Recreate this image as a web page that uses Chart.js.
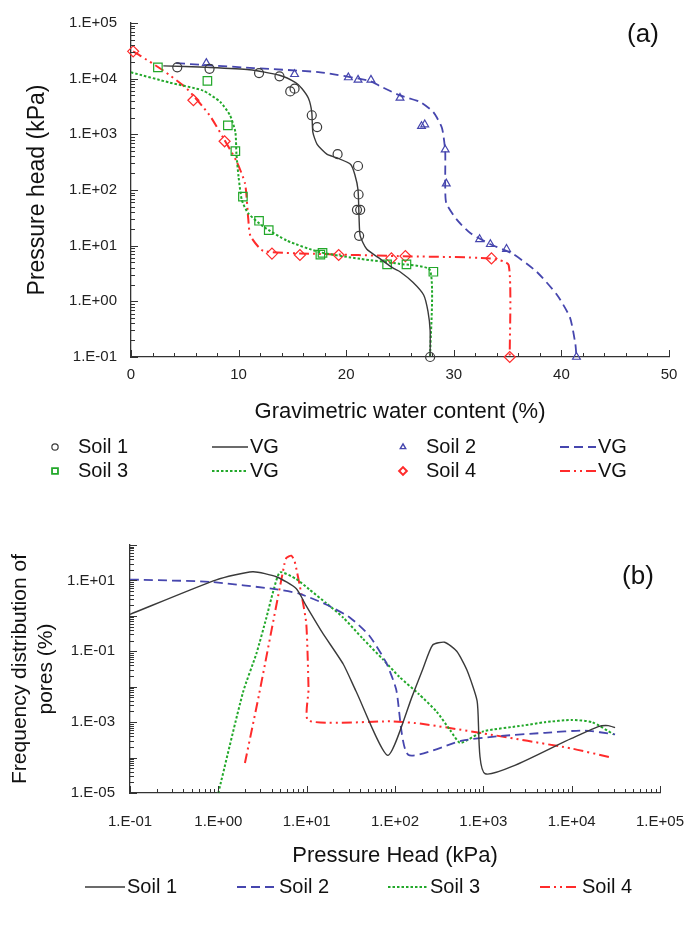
<!DOCTYPE html>
<html>
<head>
<meta charset="utf-8">
<script src="https://cdn.jsdelivr.net/npm/chart.js@4.4.0/dist/chart.umd.min.js"></script>
<style>
  html, body { margin: 0; padding: 0; background: #fff; }
  #wrap { position: relative; width: 689px; height: 927px; }
  #wrap canvas { position: absolute; left: 0; }
</style>
</head>
<body>
<div id="wrap">
  <canvas id="soil_retention_plot" width="689" height="500" style="top:0px"></canvas>
  <canvas id="pore_frequency_plot" width="689" height="427" style="top:500px"></canvas>
</div>
<script>
// ---- (a) water retention: [water content %, pressure head kPa]
const soil_1_obs = [[4.3,1.6e4],[7.3,1.5e4],[11.9,1.26e4],[13.8,1.1e4],[14.8,5.9e3],[15.2,6.6e3],[16.8,2.2e3],[17.3,1.35e3],[19.2,440],[21.1,270],[21.15,83],[21.0,44],[21.3,44],[21.2,15],[27.8,0.1]];
const soil_2_obs = [[7.0,1.9e4],[15.2,1.2e4],[20.2,1.05e4],[21.1,9.5e3],[22.3,9.5e3],[25.0,4.5e3],[27.0,1.4e3],[27.3,1.5e3],[29.2,530],[29.3,130],[32.4,13],[33.4,10.6],[34.9,8.7],[41.4,0.1]];
const soil_3_obs = [[2.5,1.6e4],[7.1,9.1e3],[9.0,1.45e3],[9.7,500],[10.4,76],[11.9,28],[12.8,19],[17.6,6.9],[17.8,7.4],[23.8,4.6],[25.6,4.6],[28.1,3.4]];
const soil_4_obs = [[0.2,3.1e4],[5.8,4.1e3],[8.7,750],[13.1,7.2],[15.7,6.8],[19.3,6.8],[24.2,5.9],[25.5,6.5],[33.5,5.9],[35.2,0.1]];

const soil_1_vg = [[3.0,1.7e4],[7,1.6e4],[11,1.45e4],[13.8,1.15e4],[15.3,8.5e3],[15.9,6.6e3],[16.5,4.4e3],[16.8,2.5e3],[16.9,1.1e3],[17.3,660],[18.2,440],[19.1,380],[20.4,290],[20.8,190],[21.1,100],[21.2,30],[21.3,15],[21.9,8.7],[23.1,5.9],[24.4,3.9],[25.0,3.4],[26.2,2.2],[27.2,1.3],[27.6,0.66],[27.8,0.3],[27.8,0.1]];
const soil_2_vg = [[4.2,1.9e4],[11.4,1.55e4],[17.6,1.3e4],[22.2,9.1e3],[23.1,7.4e3],[25.0,5e3],[26.9,3.8e3],[28.1,2.5e3],[28.9,1.3e3],[29.2,500],[29.2,130],[29.3,58],[30.3,29],[31.5,17],[33.4,10.6],[35.5,7.1],[37.7,3.4],[39.6,1.3],[40.8,0.51],[41.3,0.17],[41.4,0.1]];
const soil_3_vg = [[0,1.3e4],[3.6,8.5e3],[6.7,6.1e3],[8.3,3.8e3],[9.2,2.2e3],[9.7,1.1e3],[9.8,440],[10.0,170],[10.3,66],[10.9,38],[12.3,22],[14.5,12.3],[17.6,7.6],[21.3,5.8],[25.0,4.7],[27.8,3.6],[27.8,0.1]];
const soil_4_vg = [[0.2,3.1e4],[0.84,2.6e4],[3.0,1.4e4],[5.2,6.6e3],[7.3,2.2e3],[8.6,850],[9.8,330],[10.6,130],[10.9,30],[11.1,15],[12.3,8.1],[17.6,7.1],[24.7,6.5],[33.4,5.9],[35.1,4.5],[35.2,0.1]];

// ---- (b) pore frequency: [pressure head kPa, frequency %]
const soil_1_freq = [[0.1,1.1],[0.95,10.4],[2.45,17.6],[4.6,12.5],[7.6,5.9],[9.9,1.9],[15,0.34],[26,0.043],[36,7.7e-3],[83,1.15e-4],[158,5.7e-3],[205,0.03],[267,0.15],[365,0.18],[500,0.1],[650,0.03],[850,4e-3],[1050,3.5e-5],[1e4,3.5e-4],[2e4,7.5e-4],[2.6e4,8e-4],[3.1e4,7e-4]];
const soil_2_freq = [[0.1,10.6],[0.8,9.1],[4.6,5.6],[8.3,4.2],[16.6,2.1],[31,0.89],[51,0.28],[79,0.049],[103,8.5e-3],[141,1.2e-4],[575,3e-4],[1450,4e-4],[5000,5e-4],[1.4e4,5.8e-4],[3.1e4,4.5e-4]];
const soil_3_freq = [[1.0,1e-5],[1.9,6.9e-3],[2.7,0.087],[3.5,0.89],[4.2,5.1],[5.0,17],[7.6,11],[10.7,5.6],[16.6,2.3],[26,0.89],[43,0.23],[73,0.059],[112,0.019],[186,6.2e-3],[295,2e-3],[420,6e-4],[550,2.6e-4],[1000,5.5e-4],[2800,8e-4],[5000,1e-3],[1e4,1.15e-3],[1.7e4,1e-3],[3e4,4.5e-4]];
const soil_4_freq = [[2.0,7e-5],[2.9,6.3e-3],[5.6,29],[5.9,43],[6.7,50],[7.3,35],[8.7,4.2],[9.9,0.6],[10.5,8.5e-3],[10.5,1.1e-3],[94,1.05e-3],[200,9e-4],[1000,4.8e-4],[1e4,1.8e-4],[2.8e4,1e-4]];

const soil_names = ['Soil 1', 'Soil 2', 'Soil 3', 'Soil 4'];
const fit_name = 'VG';

const black = '#3a3a3a', blue = '#4646ae', green = '#22a82a', red = '#ff2b2b';
const TXT = '"Liberation Sans", Arial, sans-serif';

function pts(list) { return list.map(p => ({x: p[0], y: p[1]})); }

function expLabel(v) {
  const e = Math.round(Math.log10(v));
  return '1.E' + (e < 0 ? '-' : '+') + String(Math.abs(e)).padStart(2, '0');
}
function isDecade(v) {
  const l = Math.log10(v);
  return Math.abs(l - Math.round(l)) < 1e-6;
}
function logTicks(lo, hi) {
  const out = [];
  for (let e = lo; e < hi; e++) {
    for (let m = 1; m < 10; m++) out.push({value: m * Math.pow(10, e)});
  }
  out.push({value: Math.pow(10, hi)});
  return out;
}

// tick marks drawn inward from the axis lines
const insideTicks = {
  id: 'insideTicks',
  afterDatasetsDraw(chart) {
    const ctx = chart.ctx, area = chart.chartArea;
    ctx.save();
    ctx.strokeStyle = '#333';
    ctx.lineWidth = 1;
    Object.values(chart.scales).forEach(scale => {
      const log = scale.type === 'logarithmic';
      scale.ticks.forEach(t => {
        const major = log ? isDecade(t.value) : (t.value % 10 === 0);
        const len = major ? 7 : 4;
        const p = Math.round(scale.getPixelForValue(t.value)) + 0.5;
        ctx.beginPath();
        if (scale.isHorizontal()) {
          ctx.moveTo(p, area.bottom); ctx.lineTo(p, area.bottom - len);
        } else {
          ctx.moveTo(area.left, p); ctx.lineTo(area.left + len, p);
        }
        ctx.stroke();
      });
    });
    ctx.restore();
  }
};

const panelTag = {
  id: 'panelTag',
  afterDraw(chart, args, opts) {
    const ctx = chart.ctx;
    ctx.save();
    ctx.font = opts.font;
    ctx.fillStyle = '#111';
    ctx.textAlign = 'center';
    ctx.textBaseline = 'middle';
    ctx.fillText(opts.text, opts.x, opts.y);
    ctx.restore();
  }
};

// legend laid out on a fixed grid, samples taken from the datasets
const gridLegend = {
  id: 'gridLegend',
  afterDraw(chart, args, opts) {
    const ctx = chart.ctx;
    ctx.save();
    ctx.font = opts.font;
    ctx.textBaseline = 'middle';
    opts.items.forEach(it => {
      const ds = chart.data.datasets[it.dataset];
      let tx;
      if (ds.showLine) {
        ctx.strokeStyle = ds.borderColor;
        ctx.lineWidth = ds.borderWidth;
        ctx.setLineDash(ds.borderDash || []);
        ctx.beginPath();
        ctx.moveTo(it.x, it.y);
        ctx.lineTo(it.x + opts.lineLength, it.y);
        ctx.stroke();
        ctx.setLineDash([]);
        tx = it.x + opts.lineLength + 2;
      } else {
        ctx.strokeStyle = ds.borderColor;
        ctx.fillStyle = 'rgba(0,0,0,0)';
        Chart.helpers.drawPoint(ctx, {pointStyle: ds.pointStyle, radius: ds.pointRadius * 0.7, borderWidth: 1, rotation: 0}, it.x, it.y);
        tx = it.x + 23;
      }
      ctx.fillStyle = '#111';
      ctx.fillText(ds.label, tx, it.y);
    });
    ctx.restore();
  }
};

function pointSet(label, list, color, style, r) {
  return {label: label, data: pts(list), showLine: false, pointStyle: style, pointRadius: r,
          borderColor: color, backgroundColor: 'rgba(0,0,0,0)', borderWidth: 1.2, clip: false};
}
function lineSet(label, list, color, width, dash) {
  return {label: label, data: pts(list), showLine: true, pointRadius: 0, borderColor: color,
          borderWidth: width, borderDash: dash, tension: 0.2, clip: false};
}

const tickFont = {family: TXT, size: 15};
const titleFont = {family: TXT, size: 22};

// ---------------- (a)
const retention_chart = new Chart(
  document.querySelector('#soil_retention_plot'),
  {
    type: 'scatter',
    data: {
      datasets: [
        pointSet(soil_names[0], soil_1_obs, black, 'circle', 4.5),
        lineSet(fit_name, soil_1_vg, black, 1.4, []),
        pointSet(soil_names[1], soil_2_obs, blue, 'triangle', 4.5),
        lineSet(fit_name, soil_2_vg, blue, 1.8, [9, 5]),
        pointSet(soil_names[2], soil_3_obs, green, 'rect', 6),
        lineSet(fit_name, soil_3_vg, green, 2, [2.5, 2]),
        pointSet(soil_names[3], soil_4_obs, red, 'rectRot', 5.5),
        lineSet(fit_name, soil_4_vg, red, 2, [10, 4, 2, 4, 2, 4])
      ]
    },
    options: {
      responsive: false,
      animation: false,
      layout: {padding: {top: 16, right: 20, left: 0, bottom: 0}},
      scales: {
        x: {
          type: 'linear',
          position: 'bottom',
          min: 0,
          max: 50,
          afterFit: s => { s.height = 143; s.paddingLeft = 0; s.paddingRight = 0; },
          grid: {display: false, drawTicks: false},
          border: {display: true, color: '#333', width: 1.3},
          ticks: {stepSize: 2, autoSkip: false, maxRotation: 0, padding: 9, color: '#222', font: tickFont,
                  callback: v => (v % 10 === 0 ? String(v) : '')},
          title: {display: true, text: 'Gravimetric water content (%)', color: '#111', font: titleFont,
                  padding: {top: 0, bottom: 75}}
        },
        y: {
          type: 'logarithmic',
          min: 0.1,
          max: 1e5,
          afterFit: s => { s.width = 131; },
          afterBuildTicks: s => { s.ticks = logTicks(-1, 5); },
          grid: {display: false, drawTicks: false},
          border: {display: true, color: '#333', width: 1.3},
          ticks: {autoSkip: false, padding: 14, color: '#222', font: tickFont,
                  callback: v => (isDecade(v) ? expLabel(v) : '')},
          title: {display: true, text: 'Pressure head (kPa)', color: '#111', font: {family: TXT, size: 23},
                  padding: {top: 24, bottom: 0}}
        }
      },
      plugins: {
        legend: {display: false},
        tooltip: {enabled: false},
        panelTag: {text: '(a)', x: 643, y: 35, font: '26px ' + TXT},
        gridLegend: {
          font: '20px ' + TXT,
          lineLength: 36,
          items: [
            {dataset: 0, x: 55, y: 447}, {dataset: 1, x: 212, y: 447},
            {dataset: 2, x: 403, y: 447}, {dataset: 3, x: 560, y: 447},
            {dataset: 4, x: 55, y: 471}, {dataset: 5, x: 212, y: 471},
            {dataset: 6, x: 403, y: 471}, {dataset: 7, x: 560, y: 471}
          ]
        }
      }
    },
    plugins: [insideTicks, panelTag, gridLegend]
  }
);

// ---------------- (b)
const frequency_chart = new Chart(
  document.querySelector('#pore_frequency_plot'),
  {
    type: 'scatter',
    data: {
      datasets: [
        lineSet(soil_names[0], soil_1_freq, black, 1.4, []),
        lineSet(soil_names[1], soil_2_freq, blue, 1.8, [9, 5]),
        lineSet(soil_names[2], soil_3_freq, green, 2, [2.5, 2]),
        lineSet(soil_names[3], soil_4_freq, red, 2, [10, 4, 2, 4, 2, 4])
      ]
    },
    options: {
      responsive: false,
      animation: false,
      layout: {padding: {top: 45, right: 29, left: 0, bottom: 0}},
      scales: {
        x: {
          type: 'logarithmic',
          position: 'bottom',
          min: 0.1,
          max: 1e5,
          afterFit: s => { s.height = 134; s.paddingLeft = 0; s.paddingRight = 0; },
          afterBuildTicks: s => { s.ticks = logTicks(-1, 5); },
          grid: {display: false, drawTicks: false},
          border: {display: true, color: '#333', width: 1.3},
          ticks: {autoSkip: false, maxRotation: 0, padding: 20, color: '#222', font: tickFont,
                  callback: v => (isDecade(v) ? expLabel(v) : '')},
          title: {display: true, text: 'Pressure Head (kPa)', color: '#111', font: titleFont,
                  padding: {top: 0, bottom: 58}}
        },
        y: {
          type: 'logarithmic',
          min: 1e-5,
          max: 1e2,
          afterFit: s => { s.width = 130; },
          afterBuildTicks: s => { s.ticks = logTicks(-5, 2); },
          grid: {display: false, drawTicks: false},
          border: {display: true, color: '#333', width: 1.3},
          ticks: {autoSkip: false, padding: 15, color: '#222', font: tickFont,
                  callback: v => (isDecade(v) && Math.round(Math.log10(v)) % 2 !== 0 ? expLabel(v) : '')},
          title: {display: true, text: ['Frequency distribution of', 'pores (%)'], color: '#111',
                  font: {family: TXT, size: 21}, padding: {top: 8, bottom: 0}}
        }
      },
      plugins: {
        legend: {display: false},
        tooltip: {enabled: false},
        panelTag: {text: '(b)', x: 638, y: 77, font: '26px ' + TXT},
        gridLegend: {
          font: '20px ' + TXT,
          lineLength: 40,
          items: [
            {dataset: 0, x: 85, y: 387}, {dataset: 1, x: 237, y: 387},
            {dataset: 2, x: 388, y: 387}, {dataset: 3, x: 540, y: 387}
          ]
        }
      }
    },
    plugins: [insideTicks, panelTag, gridLegend]
  }
);
</script>
</body>
</html>
